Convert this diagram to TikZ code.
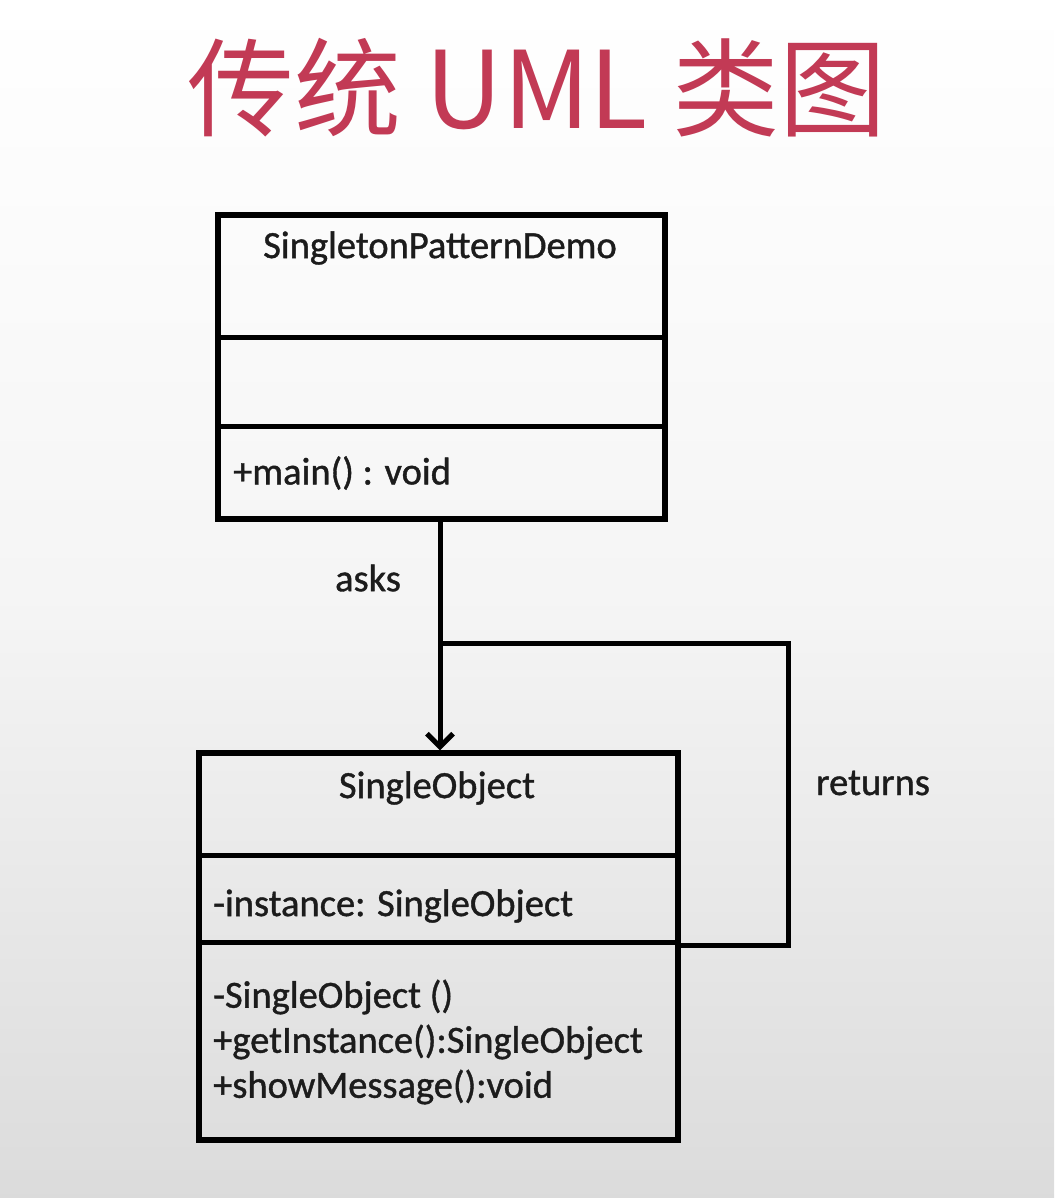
\documentclass[tikz,border=0pt]{standalone}
\usepackage{fontspec}
\setmainfont{Carlito}[FakeBold=1.2]
\newfontfamily\cjk{Noto Sans CJK SC}
\newfontfamily\umlfont{Carlito}[FakeBold=1.0]
\usetikzlibrary{arrows.meta}
\definecolor{titlered}{HTML}{C23A55}
\definecolor{inkgray}{HTML}{1C1C1C}
\tikzset{
  classbox/.style={draw=black, line width=5.5pt, inner sep=0pt},
  divider/.style={draw=black, line width=5pt},
  conn/.style={draw=black, line width=5pt},
  umltext/.style={font=\umlfont\fontsize{38.5}{46}\selectfont, text=inkgray, inner sep=0pt},
  memb/.style={umltext, anchor=west},
}
\begin{document}
\begin{tikzpicture}[x=1pt,y=-1pt]
\shade[top color=white, bottom color=black!14, middle color=black!4] (0,0) rectangle (1054,1198);
\useasboundingbox (0,0) rectangle (1054,1198);
% title
\node[font=\cjk\fontsize{107}{120}\selectfont, text=titlered, inner sep=0pt] (title) at (537,88) {传统 UML 类图};
% class 1
\node[classbox, minimum width=447pt, minimum height=304pt] (demo) at (441.5,367) {};
\coordinate (d1) at (218,337);
\coordinate (d2) at (218,426);
\draw[divider] (d1) -- (d1 -| demo.east);
\draw[divider] (d2) -- (d2 -| demo.east);
\node[umltext] (demoname) at (440,248) {SingletonPatternDemo};
\node[memb] (mainop) at (233,473) {+main() : void};
% class 2
\node[classbox, minimum width=479pt, minimum height=387pt] (obj) at (438.5,946.5) {};
\coordinate (e1) at (199,855);
\coordinate (e2) at (199,942);
\draw[divider] (e1) -- (e1 -| obj.east);
\draw[divider] (e2) -- (e2 -| obj.east);
\node[umltext] (objname) at (437,788) {SingleObject};
\node[memb] (attr) at (213,906) {-instance: SingleObject};
\node[memb] (op1) at (213,997) {-SingleObject ()};
\node[memb] (op2) at (213,1042) {+getInstance():SingleObject};
\node[memb] (op3) at (213,1087) {+showMessage():void};
% connectors
\coordinate (j) at (440,643);
\coordinate (r1) at (788,945);
\coordinate (r2) at (788,643);
\draw[conn, -{Straight Barb[length=13pt,width=26pt,line width=5pt]}] (demo.south -| j) -- (obj.north -| j);
\draw[conn, line join=miter] (obj.east |- r1) -- (r1) -- (r2) -- (j);
\node[umltext] (asks) at (368,578) {asks};
\node[umltext] (returns) at (873,783) {returns};
\end{tikzpicture}
\end{document}
